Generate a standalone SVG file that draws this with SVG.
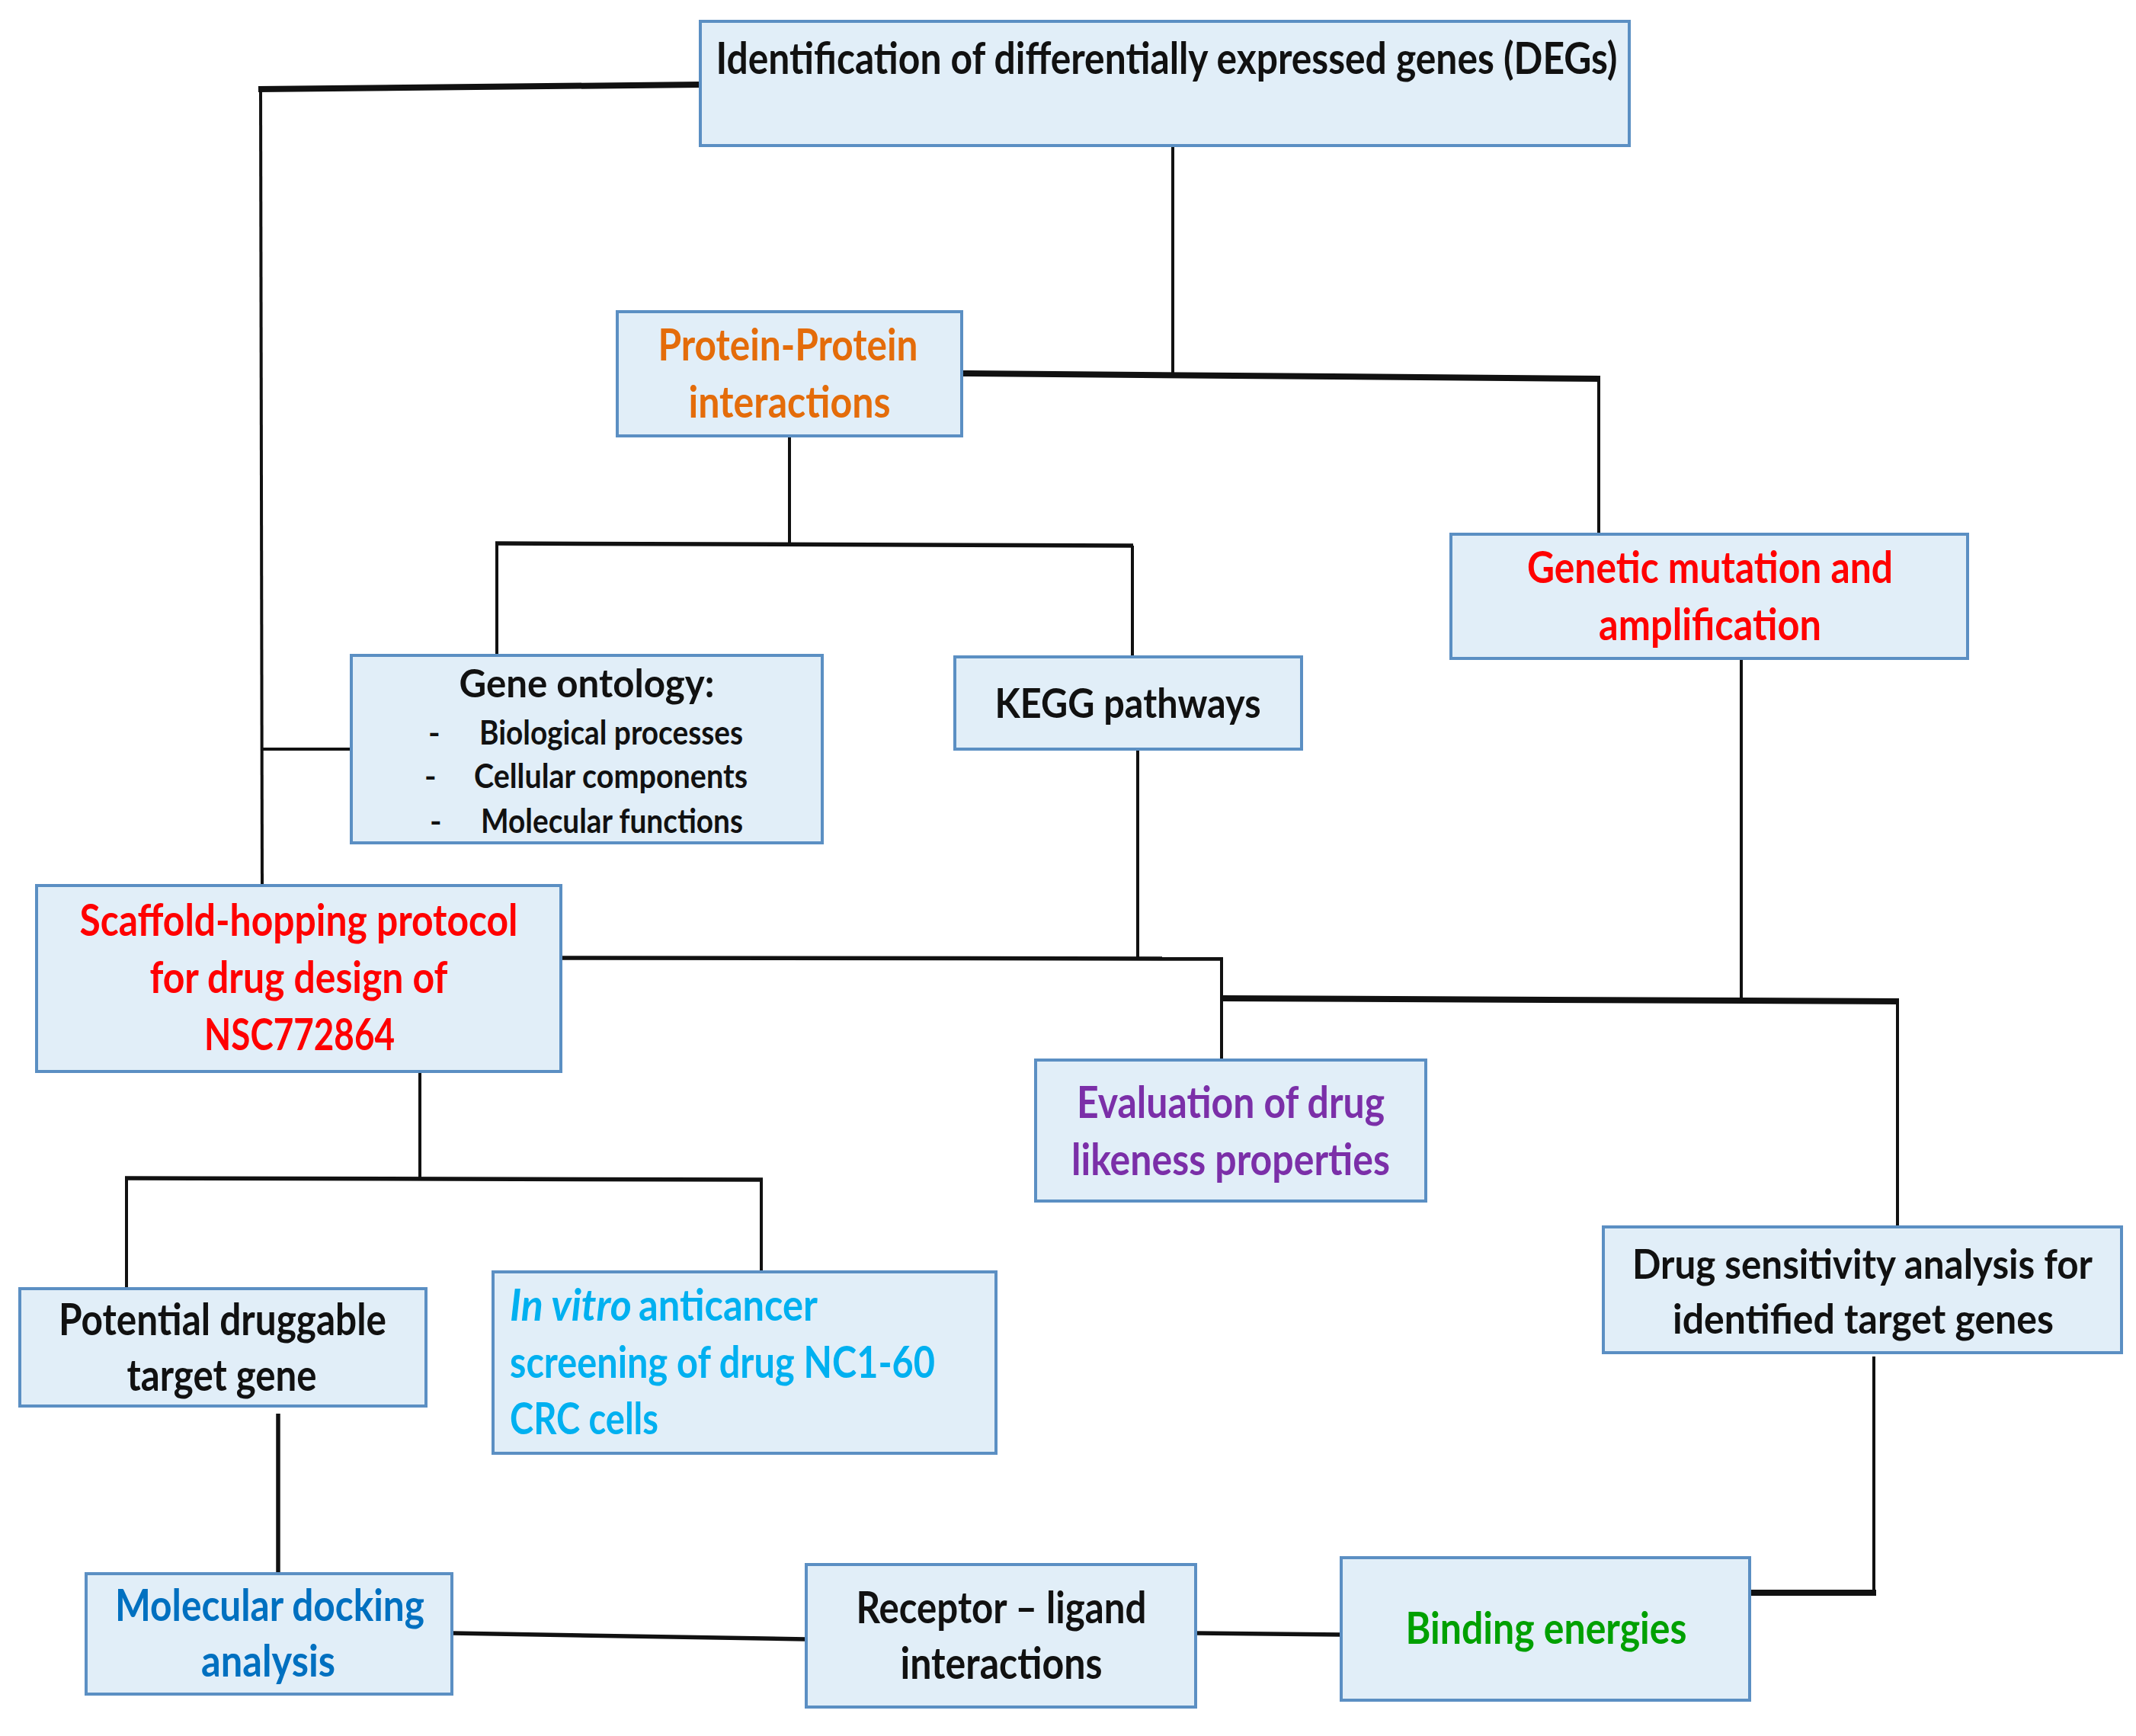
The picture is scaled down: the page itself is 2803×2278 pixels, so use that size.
<svg xmlns="http://www.w3.org/2000/svg" width="2803" height="2278" viewBox="0 0 2803 2278">
<style>
.box{fill:#E1EEF8;stroke:#5B8FC3;stroke-width:4}
.t{font-family:Lato,"Open Sans","Liberation Sans",sans-serif;font-weight:bold;font-size:57px;text-anchor:middle}
.s{text-anchor:start}
.k{fill:#111111}
.or{fill:#E46C0A}
.rd{fill:#FF0000}
.pu{fill:#7B2FA8}
.cy{fill:#00B0F0}
.bl{fill:#0070C0}
.gr{fill:#00A000}
.thin{stroke:#111;stroke-width:4;fill:none}
.mid{stroke:#111;stroke-width:5.5;fill:none}
.thick{stroke:#111;stroke-width:8;fill:none}
</style>
<rect width="2803" height="2278" fill="#FFFFFF"/>
<g id="connectors">
<line class="thick" x1="920" y1="111" x2="339" y2="117"/>
<line class="thin" x1="342" y1="115" x2="344" y2="1162"/>
<line class="thin" x1="344" y1="983" x2="461" y2="983"/>
<line class="thin" x1="1539" y1="191" x2="1539" y2="492"/>
<line class="thick" x1="1262" y1="490" x2="2100" y2="497"/>
<line class="thin" x1="2098" y1="497" x2="2098" y2="701"/>
<line class="thin" x1="1036" y1="572" x2="1036" y2="714"/>
<line class="mid" x1="650" y1="713" x2="1487" y2="716"/>
<line class="thin" x1="652" y1="713" x2="652" y2="860"/>
<line class="thin" x1="1486" y1="716" x2="1486" y2="862"/>
<line class="thin" x1="1493" y1="983" x2="1493" y2="1258"/>
<line class="mid" x1="736" y1="1257" x2="1605" y2="1258"/>
<line class="thin" x1="1603" y1="1258" x2="1603" y2="1391"/>
<line class="thick" x1="1603" y1="1310" x2="2492" y2="1314"/>
<line class="thin" x1="2285" y1="865" x2="2285" y2="1314"/>
<line class="thin" x1="2490" y1="1314" x2="2490" y2="1610"/>
<line class="thin" x1="551" y1="1406" x2="551" y2="1547"/>
<line class="mid" x1="164" y1="1546" x2="1001" y2="1548"/>
<line class="thin" x1="166" y1="1546" x2="166" y2="1691"/>
<line class="thin" x1="999" y1="1548" x2="999" y2="1669"/>
<line class="mid" x1="365" y1="1855" x2="365" y2="2065"/>
<line class="mid" x1="593" y1="2143" x2="1058" y2="2151"/>
<line class="mid" x1="1569" y1="2143" x2="1760" y2="2145"/>
<line class="thick" x1="2297" y1="2090" x2="2462" y2="2090"/>
<line class="thin" x1="2459" y1="1780" x2="2459" y2="2092"/>
</g>
<g id="node-degs">
<rect class="box" x="919" y="28" width="1219" height="163"/>
<text class="t k" x="1531" y="97" textLength="1183" lengthAdjust="spacingAndGlyphs">Identification of differentially expressed genes (DEGs)</text>
</g>
<g id="node-ppi">
<rect class="box" x="810" y="409" width="452" height="163"/>
<text class="t or" x="1034" y="473" textLength="341" lengthAdjust="spacingAndGlyphs">Protein-Protein</text>
<text class="t or" x="1036" y="548" textLength="265" lengthAdjust="spacingAndGlyphs">interactions</text>
</g>
<g id="node-genetic">
<rect class="box" x="1904" y="701" width="678" height="163"/>
<text class="t rd" x="2244" y="765" textLength="480" lengthAdjust="spacingAndGlyphs">Genetic mutation and</text>
<text class="t rd" x="2244" y="840" textLength="292" lengthAdjust="spacingAndGlyphs">amplification</text>
</g>
<g id="node-go">
<rect class="box" x="461" y="860" width="618" height="246"/>
<text class="t k" x="770" y="915" style="font-size:51px" textLength="335" lengthAdjust="spacingAndGlyphs">Gene ontology:</text>
<text class="t k s" x="562" y="977" style="font-size:42px">-</text>
<text class="t k s" x="629" y="977" style="font-size:44px" textLength="346" lengthAdjust="spacingAndGlyphs">Biological processes</text>
<text class="t k s" x="557" y="1034" style="font-size:42px">-</text>
<text class="t k s" x="622" y="1034" style="font-size:44px" textLength="359" lengthAdjust="spacingAndGlyphs">Cellular components</text>
<text class="t k s" x="564" y="1093" style="font-size:42px">-</text>
<text class="t k s" x="631" y="1093" style="font-size:44px" textLength="344" lengthAdjust="spacingAndGlyphs">Molecular functions</text>
</g>
<g id="node-kegg">
<rect class="box" x="1253" y="862" width="455" height="121"/>
<text class="t k" x="1480" y="942" style="font-size:54px" textLength="349" lengthAdjust="spacingAndGlyphs">KEGG pathways</text>
</g>
<g id="node-scaffold">
<rect class="box" x="48" y="1162" width="688" height="244"/>
<text class="t rd" x="392" y="1228" textLength="575" lengthAdjust="spacingAndGlyphs">Scaffold-hopping protocol</text>
<text class="t rd" x="392" y="1303" textLength="391" lengthAdjust="spacingAndGlyphs">for drug design of</text>
<text class="t rd" x="393" y="1378" textLength="250" lengthAdjust="spacingAndGlyphs">NSC772864</text>
</g>
<g id="node-evaluation">
<rect class="box" x="1359" y="1391" width="512" height="185"/>
<text class="t pu" x="1615" y="1467" textLength="404" lengthAdjust="spacingAndGlyphs">Evaluation of drug</text>
<text class="t pu" x="1615" y="1542" textLength="418" lengthAdjust="spacingAndGlyphs">likeness properties</text>
</g>
<g id="node-sensitivity">
<rect class="box" x="2104" y="1610" width="680" height="165"/>
<text class="t k" x="2444" y="1678" style="font-size:53px" textLength="604" lengthAdjust="spacingAndGlyphs">Drug sensitivity analysis for</text>
<text class="t k" x="2445" y="1750" style="font-size:53px" textLength="500" lengthAdjust="spacingAndGlyphs">identified target genes</text>
</g>
<g id="node-potential">
<rect class="box" x="26" y="1691" width="533" height="154"/>
<text class="t k" x="292" y="1752" textLength="430" lengthAdjust="spacingAndGlyphs">Potential druggable</text>
<text class="t k" x="291" y="1825" textLength="249" lengthAdjust="spacingAndGlyphs">target gene</text>
</g>
<g id="node-invitro">
<rect class="box" x="647" y="1669" width="660" height="238"/>
<text class="t cy s" x="669" y="1733"><tspan font-style="italic" x="669" textLength="160" lengthAdjust="spacingAndGlyphs">In vitro</tspan><tspan x="838" textLength="235" lengthAdjust="spacingAndGlyphs">anticancer</tspan></text>
<text class="t cy s" x="669" y="1808" textLength="558" lengthAdjust="spacingAndGlyphs">screening of drug NC1-60</text>
<text class="t cy s" x="669" y="1882" textLength="195" lengthAdjust="spacingAndGlyphs">CRC cells</text>
</g>
<g id="node-docking">
<rect class="box" x="113" y="2065" width="480" height="158"/>
<text class="t bl" x="354" y="2127" textLength="406" lengthAdjust="spacingAndGlyphs">Molecular docking</text>
<text class="t bl" x="352" y="2200" textLength="176" lengthAdjust="spacingAndGlyphs">analysis</text>
</g>
<g id="node-receptor">
<rect class="box" x="1058" y="2053" width="511" height="187"/>
<text class="t k" x="1314" y="2130" textLength="381" lengthAdjust="spacingAndGlyphs">Receptor – ligand</text>
<text class="t k" x="1314" y="2203" textLength="265" lengthAdjust="spacingAndGlyphs">interactions</text>
</g>
<g id="node-binding">
<rect class="box" x="1760" y="2044" width="536" height="187"/>
<text class="t gr" x="2029" y="2157" textLength="369" lengthAdjust="spacingAndGlyphs">Binding energies</text>
</g>
</svg>
